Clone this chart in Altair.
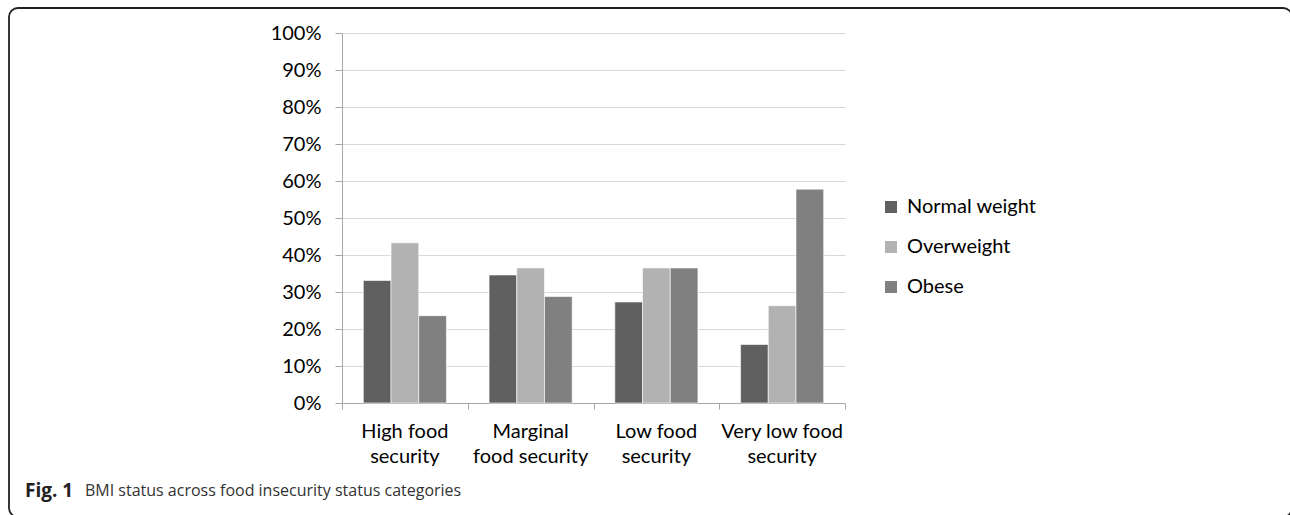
import altair as alt
import pandas as pd

categories = ["High food security", "Marginal food security", "Low food security", "Very low food security"]
category_labels = ["High food|security", "Marginal|food security", "Low food|security", "Very low food|security"]
series = ["Normal weight", "Overweight", "Obese"]
normal_weight = [33.1, 34.6, 27.3, 15.8]
overweight = [43.3, 36.5, 36.5, 26.3]
obese = [23.6, 28.8, 36.5, 57.8]
colors = ["#606060", "#b2b2b2", "#808080"]
y_ticks = [0, 0.1, 0.2, 0.3, 0.4, 0.5, 0.6, 0.7, 0.8, 0.9, 1.0]

rows = []
for i, c in enumerate(categories):
    for s, vals in zip(series, [normal_weight, overweight, obese]):
        rows.append({"category": c, "series": s, "value": vals[i]})
df = pd.DataFrame(rows)
lab_df = pd.DataFrame({"category": categories, "label": category_labels})

FONT = "Lato"
GRAY = "#a6a6a6"

x_enc = alt.X("category:N", sort=categories, title=None,
              scale=alt.Scale(paddingInner=0, paddingOuter=0),
              axis=alt.Axis(labels=False, tickBand="extent", tickSize=6, tickColor=GRAY,
                            domainColor=GRAY, grid=False))

bars = alt.Chart(df).transform_calculate(
    frac="datum.value / 100"
).mark_bar(stroke="#ffffff", strokeWidth=0.6).encode(
    x=x_enc,
    xOffset=alt.XOffset("series:N", sort=series,
                        scale=alt.Scale(paddingInner=0, paddingOuter=0.77)),
    y=alt.Y("frac:Q", title=None, scale=alt.Scale(domain=[0, 1], nice=False),
            axis=alt.Axis(format=".0%", values=y_ticks, tickSize=7, tickColor=GRAY,
                          domainColor=GRAY, gridColor="#d9d9d9", labelFont=FONT,
                          labelFontSize=20, labelColor="#000000", labelPadding=14)),
    color=alt.Color("series:N", sort=series,
                    scale=alt.Scale(domain=series, range=colors),
                    legend=alt.Legend(title=None, orient="none", legendX=539, legendY=164,
                                      symbolType="square", symbolSize=144,
                                      symbolStrokeWidth=0, symbolOpacity=1,
                                      labelFont=FONT, labelFontSize=20,
                                      labelColor="#000000", rowPadding=20,
                                      labelOffset=6)),
)

xlabels = alt.Chart(lab_df).mark_text(font=FONT, fontSize=20, color="#000000",
                                      lineBreak="|", lineHeight=25, baseline="top",
                                      align="center").encode(
    x=alt.X("category:N", sort=categories),
    y=alt.value(389),
    text="label:N",
)

one = pd.DataFrame({"a": [0]})
frame = alt.Chart(one).mark_rect(filled=False, stroke="#222222", strokeWidth=1.8,
                                 cornerRadius=9).encode(
    x=alt.value(-333), x2=alt.value(950), y=alt.value(-25), y2=alt.value(484)
)
cap1 = alt.Chart(one).mark_text(text="Fig. 1", font="Open Sans", fontSize=19,
                                fontWeight="bold", align="left", baseline="middle",
                                color="#222222").encode(x=alt.value(-317), y=alt.value(458))
cap2 = alt.Chart(one).mark_text(text="BMI status across food insecurity status categories",
                                font="Open Sans", fontSize=16, align="left",
                                baseline="middle", color="#333333").encode(
    x=alt.value(-257), y=alt.value(458))

chart = alt.layer(frame, bars, xlabels, cap1, cap2).properties(
    width=503, height=370,
    padding={"left": 342, "top": 33, "right": 445, "bottom": 112},
    autosize=alt.AutoSizeParams(type="none"),
).configure_view(stroke=None)

chart.save("out.html", embed_options={"renderer": "svg", "actions": False})
